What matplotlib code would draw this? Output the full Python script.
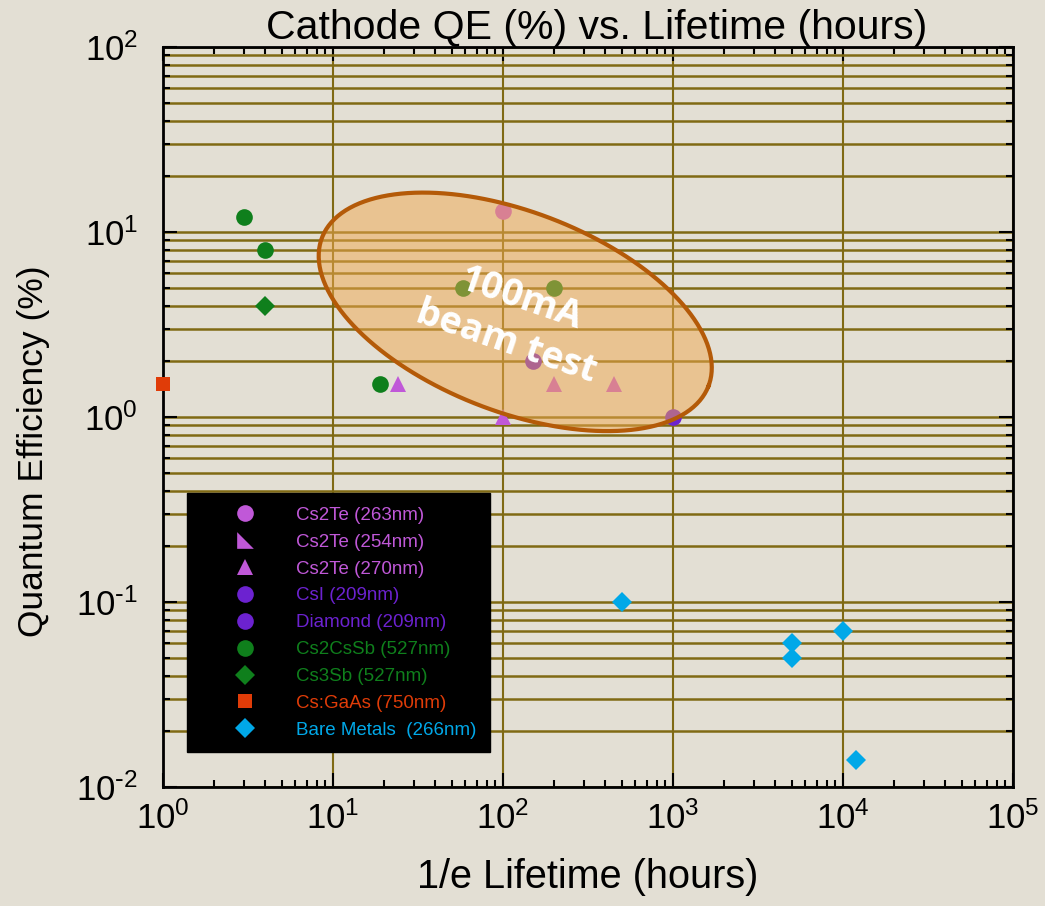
#!/usr/bin/env python3
"""
Cathode QE vs 1/e lifetime, log-log scatter with the 100mA beam test region.
"""

import numpy as np
import matplotlib
matplotlib.use("Agg")
import matplotlib.pyplot as plt
from matplotlib.ticker import LogLocator, FuncFormatter, NullFormatter

# --- data (lifetime in hours, QE in %) ---
cs2te_263_life = [100]
cs2te_263_qe = [13]
cs2te_254_life = []
cs2te_254_qe = []
cs2te_270_life = [24, 100, 200, 450]
cs2te_270_qe = [1.5, 1.0, 1.5, 1.5]
csi_life = [1000]
csi_qe = [1.0]
diamond_life = [150]
diamond_qe = [2.0]
cs2cssb_life = [3, 4, 19, 58, 200]
cs2cssb_qe = [12, 8, 1.5, 5, 5]
cs3sb_life = [4]
cs3sb_qe = [4]
gaas_life = [1]
gaas_qe = [1.5]
metals_life = [500, 5000, 5000, 10000, 12000]
metals_qe = [0.1, 0.06, 0.05, 0.07, 0.014]

BG = "#e3dfd4"
GRID = "#806a14"
PINK = "#c058d8"
PURPLE = "#6c22d0"
GREEN = "#0f7f1c"
RED = "#e03c08"
CYAN = "#00a8e8"

plt.rcParams["font.family"] = ["Liberation Sans", "DejaVu Sans"]

# right-angle triangle marker for the 254nm entry
RTRI = [(-1, 1), (-1, -1), (1, -1), (-1, 1)]

series = [
    (cs2te_263_life, cs2te_263_qe, "o", PINK, 12, "Cs2Te (263nm)"),
    (cs2te_254_life, cs2te_254_qe, RTRI, PINK, 12, "Cs2Te (254nm)"),
    (cs2te_270_life, cs2te_270_qe, "^", PINK, 12, "Cs2Te (270nm)"),
    (csi_life, csi_qe, "o", PURPLE, 12, "CsI (209nm)"),
    (diamond_life, diamond_qe, "o", PURPLE, 12, "Diamond (209nm)"),
    (cs2cssb_life, cs2cssb_qe, "o", GREEN, 12, "Cs2CsSb (527nm)"),
    (cs3sb_life, cs3sb_qe, "D", GREEN, 10, "Cs3Sb (527nm)"),
    (gaas_life, gaas_qe, "s", RED, 10, "Cs:GaAs (750nm)"),
    (metals_life, metals_qe, "D", CYAN, 10, "Bare Metals  (266nm)"),
]


def decade_label(v, pos):
    e = int(round(np.log10(v)))
    sup = r"\text{-}%d" % -e if e < 0 else "%d" % e
    return r"$\mathregular{10^{%s}}$" % sup


def beam_test_region(ax, center, a_px, b_px, tilt_deg, px_per_dec=(170.0, 185.0)):
    # ellipse is round in screen pixels, so build it there and map to log space
    t = np.linspace(0, 2 * np.pi, 300)
    th = np.radians(tilt_deg)
    dx = a_px * np.cos(t) * np.cos(th) - b_px * np.sin(t) * np.sin(th)
    dy = a_px * np.cos(t) * np.sin(th) + b_px * np.sin(t) * np.cos(th)
    lx = np.log10(center[0]) + dx / px_per_dec[0]
    ly = np.log10(center[1]) - dy / px_per_dec[1]
    ax.fill(10 ** lx, 10 ** ly, color="#f0a850", alpha=0.5, lw=0, zorder=4)
    ax.plot(10 ** lx, 10 ** ly, color="#b45a08", lw=3, zorder=4)


fig = plt.figure(figsize=(10.45, 9.06), dpi=100, facecolor=BG)
ax = fig.add_axes([0.156, 0.1313, 0.8134, 0.8169])
ax.set_facecolor(BG)
ax.set_xscale("log")
ax.set_yscale("log")
ax.set_xlim(1, 1e5)
ax.set_ylim(1e-2, 1e2)

for life, qe, mk, col, ms, lab in series:
    ax.plot(life, qe, linestyle="none", marker=mk, color=col, markersize=ms,
            markeredgewidth=0, label=lab, zorder=3, clip_on=False)

beam_test_region(ax, (118, 3.7), 207, 100, 21)
ax.text(116, 3.3, "100mA\nbeam test", rotation=-19, color="white",
        fontsize=27, fontweight="bold", family=["Open Sans", "DejaVu Sans"],
        ha="center", va="center", linespacing=1.25, zorder=5,
        rotation_mode="anchor")

# axes, ticks, grid
ax.xaxis.set_major_locator(LogLocator(base=10, numticks=10))
ax.xaxis.set_minor_locator(LogLocator(base=10, subs=np.arange(2, 10), numticks=20))
ax.yaxis.set_major_locator(LogLocator(base=10, numticks=10))
ax.yaxis.set_minor_locator(LogLocator(base=10, subs=np.arange(2, 10), numticks=20))
ax.xaxis.set_major_formatter(FuncFormatter(decade_label))
ax.yaxis.set_major_formatter(FuncFormatter(decade_label))
ax.xaxis.set_minor_formatter(NullFormatter())
ax.yaxis.set_minor_formatter(NullFormatter())

ax.tick_params(which="both", direction="in", top=True, right=True, width=1.5,
               color="black")
ax.tick_params(which="major", length=10, labelsize=25)
ax.tick_params(which="minor", length=5)
ax.tick_params(axis="x", which="major", pad=10)
ax.tick_params(axis="y", which="major", pad=18)

ax.grid(True, axis="x", which="major", color=GRID, lw=1.5)
ax.grid(True, axis="y", which="both", color=GRID, lw=1.8)
ax.set_axisbelow(True)
for sp in ax.spines.values():
    sp.set_linewidth(2)
    sp.set_color("black")

ax.set_title("Cathode QE (%) vs. Lifetime (hours)", fontsize=29.5, pad=5, x=0.51)
ax.set_xlabel("1/e Lifetime (hours)", fontsize=28.5, labelpad=16)
ax.set_ylabel("Quantum Efficiency (%)", fontsize=25.5)
ax.yaxis.set_label_coords(-0.133, 0.454)

leg = ax.legend(loc="upper left", bbox_to_anchor=(0.028, 0.397), borderaxespad=0,
                fontsize=13.5, numpoints=1, handlelength=4.75, handletextpad=0.35,
                borderpad=0.72, labelspacing=0.52, fancybox=False,
                facecolor="black", edgecolor="black", framealpha=1)
for txt, s in zip(leg.get_texts(), series):
    txt.set_color(s[3])
leg.set_zorder(6)

fig.savefig("out.png", dpi=100, facecolor=BG)
